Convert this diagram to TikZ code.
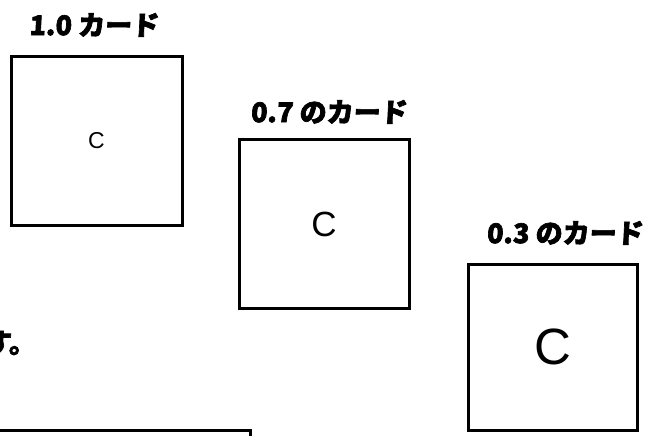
\documentclass[tikz,border=0pt]{standalone}
\usepackage{fontspec}
\setmainfont{Liberation Sans}
\newfontfamily\jpfont[FakeBold=2.5,FakeSlant=0.05]{Noto Sans CJK JP}
\begin{document}
\begin{tikzpicture}[x=1pt,y=-1pt,
  card/.style={draw=black,line width=3pt,fill=white,inner sep=0pt,outer sep=0pt},
  cardlabel/.style={font=\jpfont\bfseries\fontsize{27}{29}\selectfont,inner sep=0pt}]
\clip (0,0) rectangle (649,436);
\fill[white] (0,0) rectangle (649,436);
% cards
\node[card,minimum width=171pt,minimum height=168pt,font=\fontsize{23}{26}\selectfont] (c1) at (96.5,141) {C};
\node[card,minimum width=170pt,minimum height=168pt,font=\fontsize{35}{38}\selectfont] (c2) at (324,224) {C};
\node[card,minimum width=169pt,minimum height=166pt,font=\fontsize{51}{54}\selectfont] (c3) at (552.5,347) {C};
% labels
\node[cardlabel] (l1) at (94,25) {1.0 カード};
\node[cardlabel] (l2) at (329,112) {0.7 のカード};
\node[cardlabel] (l3) at (565,233) {0.3 のカード};
% partial sentence and box at bottom
\node[cardlabel,anchor=east] (s) at (36,343) {す。};
\draw[line width=3pt] (-5,470) |- (250,430) coordinate (bt) -- (250,470);
\end{tikzpicture}
\end{document}
